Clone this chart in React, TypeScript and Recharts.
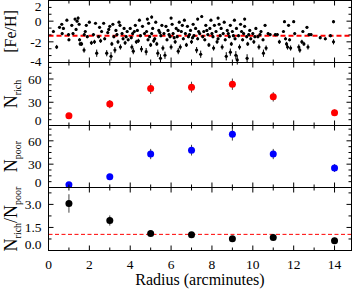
import React from "react";
import { ScatterChart, Scatter, XAxis, YAxis, ErrorBar, ReferenceLine } from "recharts";

const W = 355;
const H = 291;
const LEFT = 48.5;
const RIGHT = 351.5;
const X_MAX = 14.83;
const FONT = '"Liberation Serif", "Times New Roman", serif';

// binned counts
const RADII = [1, 3, 5, 7, 9, 11, 14];
const N_RICH = [12.6, 27.6, 47.7, 49.5, 53.3, 37.0, 16.5];
const N_RICH_ERR = [3.5, 5.3, 6.9, 7.0, 7.3, 6.1, 4.1];
const N_POOR = [3.5, 13.8, 43, 48, 68.6, 43, 25];
const N_POOR_ERR = [1.9, 3.7, 6.6, 6.9, 8.3, 6.6, 5.0];
const RATIO = [3.06, 1.95, 1.11, 1.03, 0.76, 0.85, 0.63];
const RATIO_ERR = [0.6, 0.33, 0.15, 0.14, 0.12, 0.15, 0.2];

const FEH_MEAN = -1.4;
const RATIO_MEAN = 1.05;

// individual stars: [radius, [Fe/H], error]
const FEH_STARS: [number, number, number][] = [
  [0.24, -1.0, 0.15], [0.4, -2.5, 0.2], [0.54, -0.6, 0.12], [0.65, -0.3, 0.12], [0.67, -1.2, 0.15],
  [0.73, -0.7, 0.12], [0.9, 0.1, 0.12], [0.98, -1.3, 0.15], [1.0, -1.8, 0.15], [1.14, -0.4, 0.12],
  [1.2, -1.2, 0.15], [1.3, 0.2, 0.12], [1.35, -0.8, 0.12], [1.4, 0.0, 0.12], [1.45, 0.3, 0.15],
  [1.5, -0.3, 0.12], [1.52, -1.8, 0.15], [1.55, -2.2, 0.2], [1.62, -2.2, 0.2], [1.74, -2.8, 0.25],
  [1.75, -1.3, 0.15], [1.8, -1.0, 0.12], [1.85, -0.4, 0.12], [1.9, -1.5, 0.15], [2.0, -0.1, 0.12],
  [2.1, -2.1, 0.2], [2.25, -2.0, 0.2], [2.3, -0.2, 0.12], [2.36, -3.1, 0.35], [2.45, -1.5, 0.15],
  [2.5, -0.6, 0.12], [2.6, -1.0, 0.15], [2.7, -0.2, 0.12], [2.75, -1.7, 0.15], [2.85, -3.1, 0.3],
  [2.9, -1.1, 0.15], [3.0, -0.5, 0.12], [3.06, -3.4, 0.4], [3.1, -2.2, 0.2], [3.15, -0.3, 0.12],
  [3.2, -1.5, 0.15], [3.25, -2.8, 0.3], [3.3, -0.9, 0.12], [3.4, -2.0, 0.2], [3.5, -0.4, 0.12],
  [3.52, -2.5, 0.25], [3.6, -1.2, 0.15], [3.65, -1.7, 0.15], [3.7, -0.7, 0.12],
  [3.8, -1.5, 0.15], [3.85, -1.0, 0.12], [3.9, -1.8, 0.15], [4.0, -0.7, 0.12], [4.08, -2.5, 0.25],
  [4.12, -1.2, 0.15], [4.25, -0.4, 0.12], [4.3, -2.0, 0.2], [4.35, -0.9, 0.12], [4.45, 0.1, 0.12],
  [4.5, -1.4, 0.15], [4.55, -2.7, 0.3], [4.6, -0.5, 0.12], [4.78, -2.95, 0.35], [4.8, -1.0, 0.12],
  [4.84, 0.2, 0.12], [4.87, -1.8, 0.15], [4.9, -0.2, 0.12], [5.0, -2.3, 0.2], [5.05, -1.2, 0.15],
  [5.1, -0.7, 0.12], [5.2, -1.7, 0.15], [5.25, -0.1, 0.12], [5.3, -2.2, 0.2], [5.35, -3.1, 0.35],
  [5.4, -0.9, 0.12], [5.48, -3.6, 0.4], [5.5, -1.4, 0.15], [5.55, -0.4, 0.12], [5.6, -2.6, 0.25],
  [5.65, -1.2, 0.15], [5.7, -3.3, 0.35], [5.75, -0.5, 0.12], [5.8, -1.8, 0.15], [5.85, -0.9, 0.12],
  [5.95, -1.5, 0.15], [6.0, -2.5, 0.25], [6.05, -0.3, 0.12], [6.1, -1.2, 0.15], [6.2, -2.0, 0.2],
  [6.25, -0.7, 0.12], [6.3, -1.5, 0.15], [6.4, -0.1, 0.12], [6.45, -2.5, 0.25], [6.5, -1.0, 0.12],
  [6.55, -0.4, 0.12], [6.6, -1.7, 0.15], [6.65, 0.1, 0.12], [6.7, -1.2, 0.15], [6.75, -2.3, 0.2],
  [6.8, -0.5, 0.12], [6.85, -1.5, 0.15], [6.95, -0.9, 0.12], [7.0, -2.0, 0.2], [7.08, -0.3, 0.12],
  [7.12, -1.4, 0.15], [7.2, -0.7, 0.12], [7.25, -2.8, 0.3], [7.3, -1.7, 0.15], [7.35, -1.0, 0.12],
  [7.5, 0.45, 0.15], [7.6, -1.0, 0.12], [7.65, -1.8, 0.15], [7.7, -0.4, 0.12], [7.8, -1.3, 0.15],
  [7.85, -2.3, 0.2], [7.9, -0.7, 0.12], [7.95, 0.1, 0.12], [8.05, -1.5, 0.15], [8.08, -2.6, 0.25],
  [8.12, -0.4, 0.12], [8.2, -1.0, 0.12], [8.25, -2.0, 0.2], [8.35, -0.3, 0.12], [8.4, -1.4, 0.15],
  [8.45, -0.7, 0.12], [8.5, -2.5, 0.25], [8.55, -1.2, 0.15], [8.6, -0.1, 0.12], [8.65, -1.8, 0.15],
  [8.7, -3.4, 0.4], [8.75, -0.9, 0.12], [8.85, -1.5, 0.15], [8.9, -0.4, 0.12], [8.95, -2.2, 0.2],
  [9.0, -1.0, 0.12], [9.1, 0.1, 0.12], [9.13, -1.7, 0.15], [9.17, -3.3, 0.4], [9.2, -0.7, 0.12],
  [9.24, -3.75, 0.45], [9.3, -1.4, 0.15], [9.35, -2.5, 0.25], [9.4, -0.3, 0.12], [9.45, -1.0, 0.12],
  [9.5, -1.8, 0.15], [9.6, -0.5, 0.12], [9.7, -1.5, 0.15], [9.72, -3.6, 0.4], [9.75, -2.2, 0.2],
  [9.85, -0.9, 0.12], [9.9, -1.7, 0.15], [10.0, -1.2, 0.15], [10.05, -2.0, 0.2], [10.15, -0.7, 0.12],
  [10.25, -1.5, 0.15], [10.3, -2.5, 0.25], [10.4, -1.0, 0.12], [10.5, -1.8, 0.15], [10.52, -3.1, 0.35],
  [10.6, -0.4, 0.12], [10.65, -2.6, 0.25], [10.75, -1.2, 0.15], [10.85, -1.3, 0.15], [11.1, -1.3, 0.15],
  [11.2, -1.3, 0.15], [11.3, -2.0, 0.2], [11.5, -1.0, 0.12], [11.55, -0.05, 0.12], [11.6, -1.7, 0.15],
  [11.65, -2.2, 0.2], [11.7, -2.5, 0.25], [11.75, -0.4, 0.12], [11.8, -1.8, 0.15], [11.85, -2.6, 0.25],
  [12.0, -0.05, 0.12], [12.05, -1.2, 0.15], [12.25, -2.5, 0.25], [12.3, -2.8, 0.25], [12.4, -2.0, 0.2],
  [12.45, -1.0, 0.12], [12.5, -2.2, 0.2], [12.65, -0.6, 0.12], [12.7, -2.5, 0.25], [12.75, -1.3, 0.15],
  [12.85, -1.3, 0.15], [13.3, -1.6, 0.15], [13.55, -1.7, 0.15], [13.8, -1.4, 0.15], [13.95, -0.05, 0.15],
  [13.95, -2.0, 0.25],
  [2.2, -1.3, 0.15], [2.55, -1.9, 0.2], [2.95, -0.8, 0.12], [3.35, -1.3, 0.15], [3.75, -2.1, 0.2],
  [4.05, -1.6, 0.15], [4.2, -1.0, 0.12], [4.4, -1.9, 0.2], [4.7, -1.2, 0.15], [4.95, -1.5, 0.15],
  [5.15, -1.9, 0.2], [5.45, -1.1, 0.12], [5.9, -1.3, 0.15], [6.15, -1.6, 0.15], [6.35, -0.9, 0.12],
  [6.9, -1.3, 0.15], [7.05, -1.6, 0.15], [7.4, -1.2, 0.15], [7.55, -1.5, 0.15], [7.75, -0.9, 0.12],
  [8.0, -1.2, 0.15], [8.3, -1.7, 0.15], [8.8, -1.2, 0.15], [9.05, -1.4, 0.15], [9.55, -1.2, 0.15],
  [9.8, -1.3, 0.15], [10.1, -1.5, 0.15], [10.35, -1.3, 0.15], [4.15, -2.9, 0.3], [6.35, -2.9, 0.3],
  [7.45, -3.2, 0.35], [8.9, -3.0, 0.35], [3.45, -0.1, 0.12], [5.05, 0.4, 0.15], [6.0, 0.3, 0.12],
  [7.3, 0.2, 0.12], [8.3, 0.3, 0.12], [9.6, 0.2, 0.12],
];

const X_TICKS = [0, 1, 2, 3, 4, 5, 6, 7, 8, 9, 10, 11, 12, 13, 14];

type PanelCfg = {
  top: number;
  bottom: number;
  domain: [number, number];
  ticks: number[];
  majors: number[];
  fmt: (v: number) => string;
  shiftTop: number;
  shiftBottom: number;
  xLabels: boolean;
};

const P_FEH: PanelCfg = {
  top: 0.5, bottom: 62.5, domain: [-4, 2],
  ticks: [-4, -3.33, -2.67, -2, -1.33, -0.67, 0, 0.67, 1.33, 2],
  majors: [-4, -2, 0, 2], fmt: (v) => String(v), shiftTop: 5.5, shiftBottom: 1, xLabels: false,
};
const P_RICH: PanelCfg = {
  top: 62.5, bottom: 125.5, domain: [0, 81.3],
  ticks: [0, 7.5, 15, 22.5, 30, 37.5, 45, 52.5, 60, 67.5, 75],
  majors: [0, 30, 60], fmt: (v) => String(v), shiftTop: 0, shiftBottom: 5, xLabels: false,
};
const P_POOR: PanelCfg = {
  top: 125.5, bottom: 187.5, domain: [0, 79.7],
  ticks: [0, 7.5, 15, 22.5, 30, 37.5, 45, 52.5, 60, 67.5, 75],
  majors: [0, 30, 60], fmt: (v) => String(v), shiftTop: 0, shiftBottom: 5.5, xLabels: false,
};
const P_RATIO: PanelCfg = {
  top: 187.5, bottom: 250.5, domain: [0, 4.1],
  ticks: [0, 0.75, 1.5, 2.25, 3, 3.75],
  majors: [0, 1.5, 3], fmt: (v) => v.toFixed(1), shiftTop: 0, shiftBottom: 6, xLabels: true,
};

function YTick(props: any) {
  const { y, payload, cfg } = props;
  const v = payload.value;
  const major = cfg.majors.includes(v);
  const len = major ? 5 : 3;
  let ty = y;
  if (v === cfg.domain[1]) ty += cfg.shiftTop;
  if (v === cfg.domain[0]) ty -= cfg.shiftBottom;
  return (
    <g>
      <line x1={LEFT} x2={LEFT + len} y1={y} y2={y} stroke="#000" />
      <line x1={RIGHT - len} x2={RIGHT} y1={y} y2={y} stroke="#000" />
      {major && (
        <text x={41.5} y={ty} dy="0.35em" textAnchor="end" fontSize={13.5} fontFamily={FONT} fill="#000">
          {cfg.fmt(v)}
        </text>
      )}
    </g>
  );
}

function XTick(props: any) {
  const { x, payload, cfg } = props;
  const v = payload.value;
  const major = v % 2 === 0;
  const len = major ? 5 : 3;
  return (
    <g>
      <line x1={x} x2={x} y1={cfg.bottom} y2={cfg.bottom - len} stroke="#000" />
      <line x1={x} x2={x} y1={cfg.top} y2={cfg.top + len} stroke="#000" />
      {cfg.xLabels && major && (
        <text x={x} y={268.5} textAnchor="middle" fontSize={13.5} fontFamily={FONT} fill="#000">
          {v}
        </text>
      )}
    </g>
  );
}

function Panel({ cfg, data, shape, errColor, refY, refStyle }: any) {
  return (
    <div style={{ position: "absolute", left: 0, top: 0 }}>
      <ScatterChart
        width={W}
        height={H}
        margin={{ top: cfg.top, bottom: H - cfg.bottom - 1, left: 0, right: W - RIGHT }}
      >
        <XAxis
          type="number"
          dataKey="r"
          domain={[0, X_MAX]}
          ticks={X_TICKS}
          interval={0}
          height={1}
          axisLine={false}
          tickLine={false}
          allowDataOverflow
          tick={(p: any) => <XTick {...p} cfg={cfg} />}
        />
        <YAxis
          type="number"
          dataKey="v"
          domain={cfg.domain}
          ticks={cfg.ticks}
          interval={0}
          width={LEFT}
          axisLine={false}
          tickLine={false}
          allowDataOverflow
          tick={(p: any) => <YTick {...p} cfg={cfg} />}
        />
        <ReferenceLine y={refY} stroke="#ff0000" {...refStyle} ifOverflow="hidden" />
        <Scatter data={data} isAnimationActive={false} shape={shape}>
          <ErrorBar dataKey="err" direction="y" width={0} stroke={errColor} strokeWidth={1} />
        </Scatter>
      </ScatterChart>
    </div>
  );
}

const dot = (r: number, fill: string) => (p: any) => <circle cx={p.cx} cy={p.cy} r={r} fill={fill} />;

const fehData = FEH_STARS.map(([r, v, err]) => ({ r, v, err }));
const richData = RADII.map((r, i) => ({ r, v: N_RICH[i], err: N_RICH_ERR[i] }));
const poorData = RADII.map((r, i) => ({ r, v: N_POOR[i], err: N_POOR_ERR[i] }));
const ratioData = RADII.map((r, i) => ({ r, v: RATIO[i], err: RATIO_ERR[i] }));

function YTitle({ cx, cy, parts }: { cx: number; cy: number; parts: [string, string][] }) {
  const spans: React.ReactNode[] = [];
  parts.forEach(([main, sub], i) => {
    spans.push(
      <tspan key={`m${i}`} fontSize={18} dy={i > 0 ? -4 : 0}>
        {main}
      </tspan>
    );
    if (sub)
      spans.push(
        <tspan key={`s${i}`} fontSize={10} dy={4}>
          {sub}
        </tspan>
      );
  });
  return (
    <text x={cx} y={cy} textAnchor="middle" fontFamily={FONT} fill="#000" transform={`rotate(-90 ${cx} ${cy})`}>
      {spans}
    </text>
  );
}

export default function App() {
  const panels = [P_FEH, P_RICH, P_POOR, P_RATIO];
  return (
    <div style={{ position: "absolute", left: 0, top: 0, width: W, height: H, background: "#fff" }}>
      <Panel cfg={P_FEH} data={fehData} shape={dot(1.6, "#000")} errColor="#000" refY={FEH_MEAN}
        refStyle={{ strokeWidth: 2, strokeDasharray: "5 3" }} />
      <Panel cfg={P_RICH} data={richData} shape={dot(3.5, "#ff0000")} errColor="#444" refY={-100} refStyle={{}} />
      <Panel cfg={P_POOR} data={poorData} shape={dot(3.5, "#0000ff")} errColor="#444" refY={-100} refStyle={{}} />
      <Panel cfg={P_RATIO} data={ratioData} shape={dot(3.5, "#000")} errColor="#444" refY={RATIO_MEAN}
        refStyle={{ strokeWidth: 1, strokeDasharray: "4 2.5" }} />
      <svg width={W} height={H} style={{ position: "absolute", left: 0, top: 0, pointerEvents: "none" }}>
        {panels.map((p, i) => (
          <rect key={i} x={LEFT} y={p.top} width={RIGHT - LEFT} height={p.bottom - p.top} fill="none" stroke="#000" />
        ))}
        <text x={15.5} y={31.5} textAnchor="middle" fontSize={16} fontFamily={FONT} fill="#000"
          transform="rotate(-90 15.5 31.5)">
          [Fe/H]
        </text>
        <YTitle cx={16.7} cy={94} parts={[["N", "rich"]]} />
        <YTitle cx={16.7} cy={156.5} parts={[["N", "poor"]]} />
        <YTitle cx={16.7} cy={219} parts={[["N", "rich"], ["/N", "poor"]]} />
        <text x={200} y={284.5} textAnchor="middle" fontSize={16} fontFamily={FONT} fill="#000">
          Radius (arcminutes)
        </text>
      </svg>
    </div>
  );
}
